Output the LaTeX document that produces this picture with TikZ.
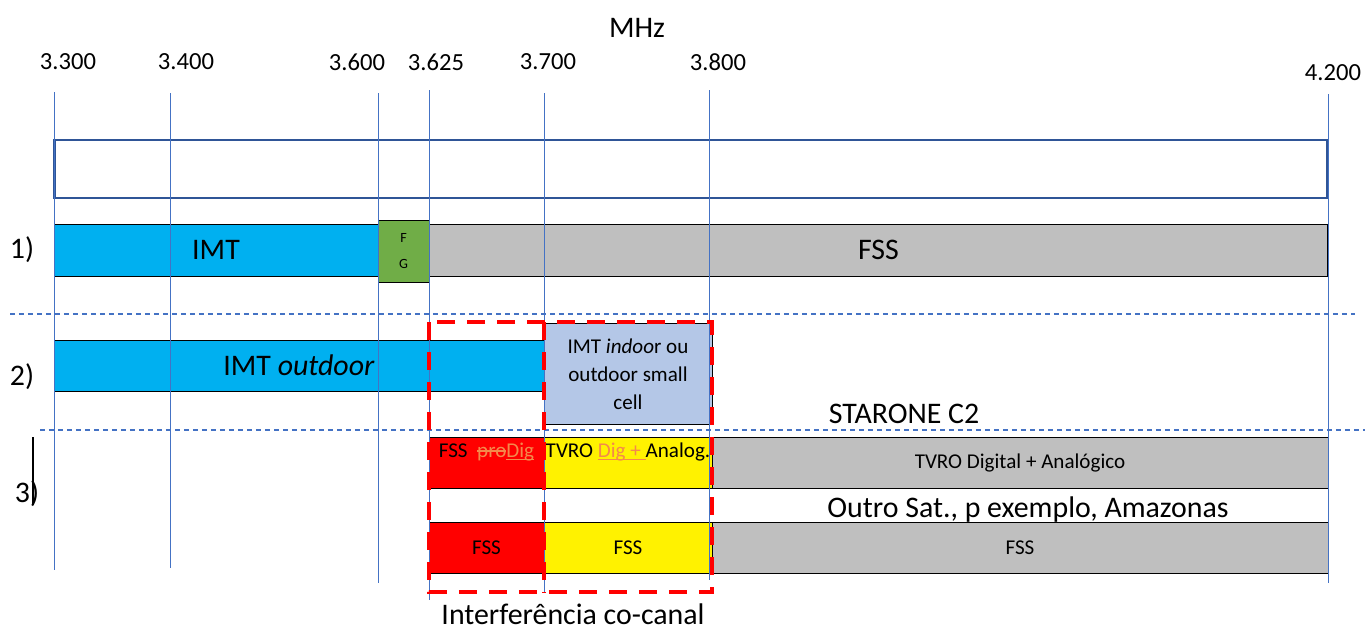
\documentclass[tikz,border=0pt]{standalone}
\usepackage{fontspec}
\setmainfont{Carlito}
\definecolor{imtblue}{HTML}{00B0F0}
\definecolor{fggreen}{HTML}{70AD47}
\definecolor{fssgray}{HTML}{BFBFBF}
\definecolor{cellblue}{HTML}{B4C7E7}
\definecolor{gridblue}{HTML}{4472C4}
\definecolor{framblue}{HTML}{2F5597}
\definecolor{chg}{HTML}{F4894B}
\newlength\marklen
\newcommand\strikeout[1]{\settowidth\marklen{#1}\rlap{\rule[0.28em]{\marklen}{0.07em}}#1}
\newcommand\underl[1]{\settowidth\marklen{#1}\rlap{\rule[-0.14em]{\marklen}{0.07em}}#1}

\begin{document}
\begin{tikzpicture}
  [x=0.02cm, y=-0.02cm,
   band/.style={draw=black, line width=0.5pt, inner sep=0pt, align=center, font=\fontsize{12}{16}\selectfont},
   raised/.style={text height=0.3cm, text depth=0.5cm},
   freq/.style={font=\fontsize{14}{16}\selectfont},
   big/.style={font=\fontsize{17}{20}\selectfont},
   gridline/.style={draw=gridblue, line width=0.5pt},
   sepline/.style={draw=gridblue, line width=0.6pt, dash pattern=on 0.1cm off 0.08cm},
   zone/.style={draw=red, line width=2.8pt, dash pattern=on 0.36cm off 0.24cm}]

  \useasboundingbox (0,0) rectangle (1368,630);

  \node[big] (mhz) at (637,28) {MHz};

  % empty band frame
  \node[draw=framblue, line width=1.6pt, minimum width=25.48cm, minimum height=1.16cm] (frame) at (691,169) {};

  % row 1
  \node[band, fill=imtblue, minimum width=6.48cm, minimum height=1.04cm, big] (imt) at (216,250) {IMT};
  \node[band, fill=fggreen, minimum width=1.02cm, minimum height=1.24cm, font=\fontsize{8}{15}\selectfont] (fg) at (403.5,251) {F\\G};
  \node[band, fill=fssgray, minimum width=17.98cm, minimum height=1.04cm, big] (fss) at (878.5,250) {FSS};
  \node[big] (r1) at (22,250) {1)};

  % row 2
  \node[band, fill=imtblue, minimum width=9.8cm, minimum height=1.02cm, big] (imtout) at (299,365.5) {IMT \textit{outdoor}};
  \node[band, fill=cellblue, minimum width=3.36cm, minimum height=2.02cm] (imtin) at (628,374) {IMT \textit{indoo}r ou\\outdoor small\\cell};
  \node[big] (r2) at (22,377) {2)};

  % row 3
  \node[big] (star) at (904,414) {STARONE C2};
  \node[band, raised, fill=red, minimum width=2.3cm, minimum height=1.02cm] (fssa) at (486.5,462.5) {FSS\ \ {\color{chg}\strikeout{pro}\underl{Dig}}};
  \node[band, raised, fill=yellow, minimum width=3.36cm, minimum height=1.02cm] (tvroa) at (628,462.5) {TVRO {\color{chg}\underl{Dig +\ }}Analog.};
  \node[band, fill=fssgray, minimum width=12.32cm, minimum height=1.02cm] (tvrob) at (1020,462.5) {TVRO Digital + Analógico};
  \node[big] (outro) at (1028,510) {Outro Sat., p exemplo, Amazonas};
  \node[band, fill=red, minimum width=2.3cm, minimum height=1.02cm] (fssb) at (486.5,547.5) {FSS};
  \node[band, fill=yellow, minimum width=3.36cm, minimum height=1.02cm] (fssc) at (628,547.5) {FSS};
  \node[band, fill=fssgray, minimum width=12.32cm, minimum height=1.02cm] (fssd) at (1020,547.5) {FSS};
  \node[big] (r3) at (27,494) {3)};
  \coordinate (bar1) at (33,437);
  \coordinate (bar2) at (33,505);
  \draw[line width=1.2pt] (bar1) -- (bar2);

  % frequency lines
  \foreach \n/\x/\lx/\ly/\f/\yt/\yb in {a/54/68/62/3.300/92/570, b/170/186/62/3.400/93/568,
      c/378/357/62/3.600/93/583, d/429/436/62/3.625/90/600, e/544/548/62/3.700/93/592,
      f/709/718/62/3.800/90/580, g/1328/1333/73/4.200/94/583}
  {
    \node[freq] (lbl\n) at (\lx,\ly) {\f};
    \coordinate (top\n) at (\x,\yt);
    \coordinate (bot\n) at (\x,\yb);
    \draw[gridline] (top\n) -- (bot\n);
  }

  % separators
  \coordinate (s1) at (10,314);
  \coordinate (s2) at (1355,314);
  \coordinate (s3) at (40,430);
  \coordinate (s4) at (1365,430);
  \foreach \from/\to in {s1/s2, s3/s4}
    \draw[sepline] (\from) -- (\to);

  % co-channel zone
  \coordinate (z1) at (429,322);
  \coordinate (z2) at (712,592);
  \coordinate (z3) at (544,322);
  \coordinate (z4) at (544,592);
  \draw[zone] (z1) rectangle (z2);
  \draw[zone] (z3) -- (z4);
  \node[big, inner sep=0pt] (intf) at (573,614) {Interferência co-canal};
\end{tikzpicture}
\end{document}
